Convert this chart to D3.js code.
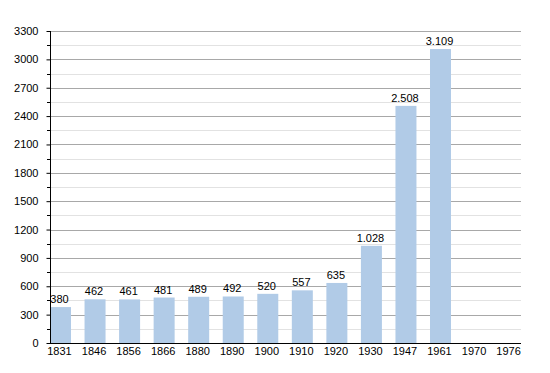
<!DOCTYPE html>
<html>
<head>
<meta charset="utf-8">
<script src="https://cdn.jsdelivr.net/npm/d3@7"></script>
<style>
  html, body { margin: 0; padding: 0; background: #fff; }
  svg { display: block; font-family: "Liberation Sans", Arial, sans-serif; }
</style>
</head>
<body>
<div id="chart"></div>
<script>
// data
const years = ['1831', '1846', '1856', '1866', '1880', '1890', '1900', '1910', '1920', '1930', '1947', '1961', '1970', '1976'];
const population = [380, 462, 461, 481, 489, 492, 520, 557, 635, 1028, 2508, 3109, null, null];
const yTicks = [0, 300, 600, 900, 1200, 1500, 1800, 2100, 2400, 2700, 3000, 3300];
const yMinor = [150, 450, 750, 1050, 1350, 1650, 1950, 2250, 2550, 2850, 3150];

const width = 550, height = 373;
const m = { left: 50, right: 521, top: 31, bottom: 343 };

const svg = d3.select('#chart').append('svg')
    .attr('width', width).attr('height', height);

const y = d3.scaleLinear().domain([0, 3300]).range([m.bottom, m.top]);
const x = d3.scalePoint().domain(years).range([60.5, 509.6]);
const barW = 21;

// label format: thousands with dot
const fmt = v => v >= 1000 ? d3.format(',')(v).replace(',', '.') : String(v);
const py = d => Math.round(y(d)) + 0.5;

// minor gridlines
svg.append('g').selectAll('line').data(yMinor).join('line')
    .attr('x1', m.left).attr('x2', m.right)
    .attr('y1', py).attr('y2', py)
    .attr('stroke', '#e2e2e2');

// major gridlines
svg.append('g').selectAll('line').data(yTicks.filter(d => d > 0)).join('line')
    .attr('x1', m.left).attr('x2', m.right)
    .attr('y1', py).attr('y2', py)
    .attr('stroke', '#a8a8a8');

// minor ticks
svg.append('g').selectAll('line').data(yMinor).join('line')
    .attr('x1', m.left - 3).attr('x2', m.left)
    .attr('y1', py).attr('y2', py)
    .attr('stroke', '#000');

// y axis
const yAxis = d3.axisLeft(y).tickValues(yTicks).tickFormat(d3.format('d')).tickSize(4).tickPadding(8);
const gy = svg.append('g').attr('transform', `translate(${m.left + 0.5},0)`).call(yAxis);
gy.select('.domain').remove();
gy.selectAll('text').attr('font-size', 11).attr('fill', '#000')
    .attr('font-family', '"Liberation Sans", Arial, sans-serif');

// bars
const data = years.map((yr, i) => ({ year: yr, value: population[i] })).filter(d => d.value != null);
svg.append('g').selectAll('rect').data(data).join('rect')
    .attr('x', d => x(d.year) - barW / 2)
    .attr('y', d => y(d.value))
    .attr('width', barW)
    .attr('height', d => m.bottom - y(d.value))
    .attr('fill', '#b1cbe7');

// value labels
svg.append('g').selectAll('text').data(data).join('text')
    .attr('x', d => x(d.year) - 1)
    .attr('y', d => y(d.value) - 4)
    .attr('text-anchor', 'middle')
    .attr('font-size', 11)
    .attr('fill', '#000')
    .text(d => fmt(d.value));

// axis lines
svg.append('line').attr('x1', m.left + 0.5).attr('x2', m.left + 0.5).attr('y1', m.top).attr('y2', m.bottom + 1)
    .attr('stroke', '#000');
svg.append('line').attr('x1', m.left).attr('x2', m.right).attr('y1', m.bottom + 0.5).attr('y2', m.bottom + 0.5)
    .attr('stroke', '#000');

// x labels
svg.append('g').selectAll('text').data(years).join('text')
    .attr('x', d => x(d) - 1)
    .attr('y', m.bottom + 12)
    .attr('text-anchor', 'middle')
    .attr('font-size', 11)
    .attr('fill', '#000')
    .text(d => d);
</script>
</body>
</html>
